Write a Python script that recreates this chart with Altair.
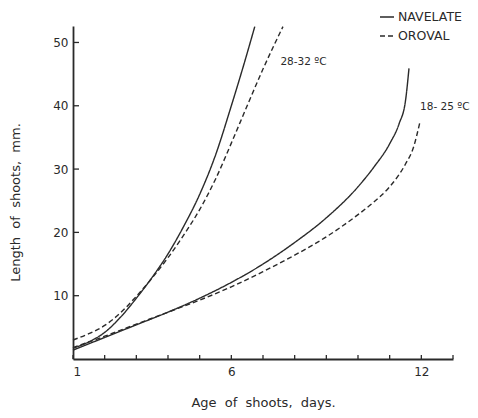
import altair as alt
import pandas as pd

# Navelate 28-32 ºC (solid)
nav_hot_day = [1, 1.5, 2, 2.5, 3, 3.5, 4, 4.5, 5, 5.5, 6, 6.4, 6.74]
nav_hot_len = [1.7, 2.7, 4.2, 6.6, 9.6, 12.9, 16.6, 21.0, 26.0, 32.2, 40.0, 46.6, 52.5]
# Oroval 28-32 ºC (dashed)
oro_hot_day = [1, 1.5, 2, 2.5, 3, 3.5, 4, 4.5, 5, 5.5, 6, 6.5, 7, 7.63]
oro_hot_len = [3.0, 4.0, 5.3, 7.3, 9.9, 12.8, 16.0, 19.6, 23.6, 28.4, 34.1, 40.0, 45.8, 52.5]
# Navelate 18-25 ºC (solid)
nav_cool_day = [1, 2, 3, 4, 5, 6, 7, 8, 9, 10, 10.5, 11, 11.3, 11.5, 11.61]
nav_cool_len = [1.4, 3.4, 5.4, 7.4, 9.6, 12.1, 15.0, 18.4, 22.3, 27.2, 30.3, 34.0, 37.2, 40.8, 45.9]
# Oroval 18-25 ºC (dashed)
oro_cool_day = [1, 2, 3, 4, 5, 6, 7, 8, 9, 10, 10.5, 11, 11.5, 11.75, 11.95]
oro_cool_len = [1.8, 3.6, 5.5, 7.4, 9.3, 11.4, 13.8, 16.4, 19.3, 22.8, 24.8, 27.2, 30.8, 33.4, 37.3]

varieties = ["NAVELATE", "OROVAL"]
x_tick_days = list(range(1, 14))
x_label_days = [1, 6, 12]
y_tick_values = [10, 20, 30, 40, 50]

temp_labels = ["28-32 ºC", "18- 25 ºC"]
temp_label_day = [7.55, 11.96]
temp_label_len = [46.9, 39.8]

NB = "\u00a0"
x_title = f"Age{NB} of{NB} shoots,{NB} days."
y_title = f"Length{NB} of{NB} shoots,{NB} mm."

rows = []
for d, v in zip(nav_hot_day, nav_hot_len):
    rows.append({"day": d, "length": v, "variety": "NAVELATE", "series": "NAV-hot"})
for d, v in zip(oro_hot_day, oro_hot_len):
    rows.append({"day": d, "length": v, "variety": "OROVAL", "series": "ORO-hot"})
for d, v in zip(nav_cool_day, nav_cool_len):
    rows.append({"day": d, "length": v, "variety": "NAVELATE", "series": "NAV-cool"})
for d, v in zip(oro_cool_day, oro_cool_len):
    rows.append({"day": d, "length": v, "variety": "OROVAL", "series": "ORO-cool"})
df = pd.DataFrame(rows)

ink = "#2a2a2a"
FONT = "DejaVu Sans"

xscale = alt.Scale(domain=[1, 13], nice=False, zero=False)
yscale = alt.Scale(domain=[0, 52.6], nice=False, zero=False)

lines = alt.Chart(df).mark_line(interpolate="monotone", color=ink, strokeWidth=1.4).encode(
    x=alt.X("day:Q", scale=xscale,
            axis=alt.Axis(values=x_label_days, title=x_title,
                          grid=False, ticks=False, labelPadding=7,
                          titleY=43, titleBaseline="middle")),
    y=alt.Y("length:Q", scale=yscale,
            axis=alt.Axis(values=y_tick_values, title=y_title,
                          grid=False, ticks=False, labelPadding=5,
                          titleX=-58, titleY=176, titleBaseline="middle")),
    strokeDash=alt.StrokeDash("variety:N",
                              scale=alt.Scale(domain=varieties, range=[[1, 0], [5, 3]]),
                              legend=alt.Legend(title=None, orient="none", legendX=306, legendY=-17,
                                                padding=0,
                                                symbolType="stroke", symbolSize=196,
                                                symbolStrokeColor=ink, symbolStrokeWidth=1.4,
                                                labelFontSize=12.5, labelFont=FONT, labelColor=ink,
                                                labelOffset=3, rowPadding=4)),
    detail="series:N",
)

xticks = alt.Chart(pd.DataFrame({"day": x_tick_days})).mark_rule(color=ink, strokeWidth=1.3).encode(
    x=alt.X("day:Q", scale=xscale),
    y=alt.value(333), y2=alt.value(329),
)
yticks = alt.Chart(pd.DataFrame({"length": y_tick_values})).mark_rule(color=ink, strokeWidth=1.3).encode(
    y=alt.Y("length:Q", scale=yscale),
    x=alt.value(0), x2=alt.value(6),
)

labels = alt.Chart(pd.DataFrame({"text": temp_labels, "day": temp_label_day, "length": temp_label_len})).mark_text(
    align="left", baseline="middle", font=FONT, fontSize=10.5, color=ink
).encode(
    x=alt.X("day:Q", scale=xscale),
    y=alt.Y("length:Q", scale=yscale),
    text="text:N",
)

chart = alt.layer(lines, xticks, yticks, labels).properties(
    width=380, height=333,
    padding={"left": 65, "top": 18, "right": 17, "bottom": 51},
    autosize="none",
    background="white",
).configure_view(stroke=None).configure_axis(
    domainColor=ink, domainWidth=1.8,
    labelFont=FONT, labelFontSize=12, labelColor=ink,
    titleFont=FONT, titleFontSize=13, titleColor=ink, titleFontWeight="normal",
)

chart.save("out.html", embed_options={"renderer": "svg", "actions": False})
